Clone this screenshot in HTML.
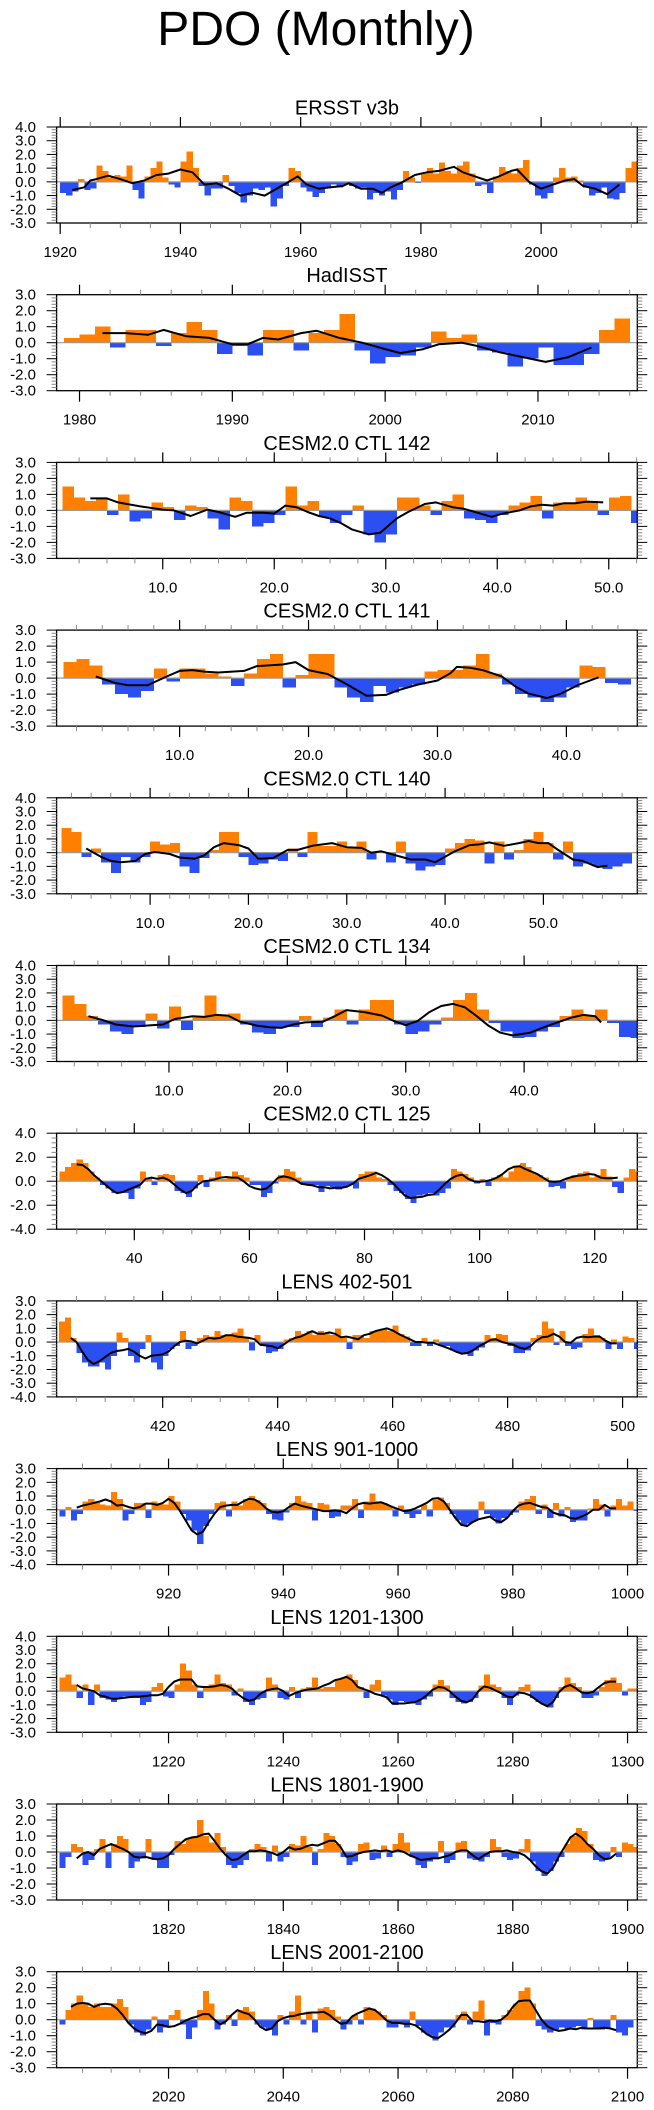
<!DOCTYPE html>
<html><head><meta charset="utf-8"><title>PDO (Monthly)</title>
<style>
html,body{margin:0;padding:0;background:#fff;}
svg{display:block;font-family:"Liberation Sans",Arial,sans-serif;}
</style></head>
<body>
<svg id="chart" width="654" height="2110" viewBox="0 0 654 2110" xmlns="http://www.w3.org/2000/svg">
<text x="316" y="45" font-size="48" text-anchor="middle" fill="#000">PDO (Monthly)</text>
</svg>
<script>
// ---- data (annual-ish bar values, smoothed line) ----
const titles = ["ERSST v3b","HadISST","CESM2.0 CTL 142","CESM2.0 CTL 141","CESM2.0 CTL 140","CESM2.0 CTL 134","CESM2.0 CTL 125","LENS 402-501","LENS 901-1000","LENS 1201-1300","LENS 1801-1900","LENS 2001-2100"];
const barStart = [1920,1979,1,1,1,1,27,402,901,1201,1801,2001];
const bars0 = [-0.8,-1.0,-0.7,0.2,-0.6,-0.5,1.2,0.8,0.3,0.5,0.4,1.2,-0.6,-1.2,0.4,1.0,1.5,0.3,-0.2,-0.4,1.5,2.2,1.0,-0.3,-1.0,-0.5,-0.5,0.5,-0.3,-0.8,-1.5,-1.0,-0.5,-0.6,-0.4,-1.8,-1.2,-0.3,1.0,0.8,-0.4,-0.7,-1.1,-0.8,-0.5,-0.2,-0.4,-0.2,-0.3,-0.5,-0.4,-1.3,-0.8,-1.0,-0.7,-1.3,-0.6,0.8,0.3,-0.1,0.7,1.0,0.6,1.4,0.8,0.6,1.2,1.5,0.6,-0.3,-0.2,-0.8,0.4,1.1,0.8,0.6,1.0,1.6,-0.2,-1.0,-1.2,-0.8,0.3,1.0,0.3,0.4,0.1,-0.4,-1.0,-0.8,-0.4,-1.2,-1.3,-0.8,1.0,1.5];
const bars1 = [0.3,0.5,1.0,-0.3,0.8,0.8,-0.2,0.6,1.3,0.8,-0.7,-0.2,-0.8,0.8,0.8,-0.5,0.6,0.8,1.8,-0.5,-1.3,-0.9,-0.8,-0.3,0.7,0.3,0.5,-0.5,-0.6,-1.5,-1.0,-0.3,-1.4,-1.4,-0.7,0.8,1.5];
const bars2 = [1.5,0.8,0.6,0.8,-0.3,1.0,-0.7,-0.5,0.5,0.2,-0.6,0.3,0.2,-0.5,-1.2,0.8,0.6,-1.0,-0.8,-0.3,1.5,0.3,0.6,-0.4,-0.8,-0.3,0.3,-1.5,-2.0,-1.5,0.8,0.8,0.3,-0.3,0.6,1.0,-0.5,-0.6,-0.8,-0.3,0.3,0.5,0.9,-0.5,0.5,0.5,0.8,0.6,-0.3,0.8,0.9,-0.8];
const bars3 = [1.0,1.2,0.8,-0.4,-1.0,-1.2,-0.8,0.6,-0.2,0.6,0.6,0.3,0.1,-0.5,0.3,1.2,1.5,-0.6,0.2,1.5,1.5,-0.6,-1.2,-1.5,-0.5,-0.9,-0.6,-0.4,0.4,0.5,0.5,0.8,1.5,0.3,-0.4,-1.0,-1.2,-1.5,-1.2,-0.6,0.8,0.7,-0.3,-0.4];
const bars4 = [1.8,1.5,-0.3,0.3,-0.7,-1.5,-0.3,-0.7,-0.3,0.8,0.6,0.7,-1.0,-1.5,-0.4,0.2,1.5,1.5,-0.3,-0.9,-0.8,-0.5,-0.6,0.3,-0.3,1.5,0.5,0.5,0.8,0.4,0.8,-0.5,0.1,-0.7,0.8,-0.8,-1.3,-1.0,-0.9,0.3,0.7,1.0,0.9,-0.8,0.8,-0.5,0.2,1.0,1.5,0.7,-0.5,0.8,-1.0,-0.8,-1.0,-1.2,-1.0,-0.8];
const bars5 = [1.8,1.2,0.3,-0.3,-0.8,-1.0,-0.5,0.5,-0.6,1.0,-0.7,0.2,1.8,0.4,0.5,-0.3,-0.9,-1.0,-0.5,-0.5,0.3,-0.5,0.2,0.8,-0.3,0.8,1.5,1.5,-0.3,-1.0,-0.8,-0.3,0.2,1.5,2.0,0.8,-0.2,-0.8,-1.3,-1.2,-0.8,-0.5,0.3,0.8,0.3,0.8,-0.2,-1.2,-1.3];
const bars6 = [0.8,1.2,1.5,1.8,1.5,0.8,0.3,-0.3,-0.6,-1.0,-1.0,-1.0,-1.5,-0.6,0.8,0.3,-0.3,0.5,0.6,0.5,-0.8,-1.0,-1.3,-0.6,0.5,-0.5,0.3,0.8,0.2,0.4,0.8,0.5,0.3,-0.3,-0.3,-1.3,-1.0,-0.2,0.5,1.0,0.8,0.3,-0.3,-0.3,-0.3,-0.9,-0.4,-0.5,-0.7,-0.5,-0.3,-0.6,0.6,0.8,0.8,0.3,0.2,-0.3,-0.8,-1.0,-1.5,-1.8,-1.2,-1.1,-1.0,-1.2,-1.0,-0.6,1.0,0.8,0.6,0.3,-0.2,0.2,-0.4,0.3,0.5,0.3,0.8,1.2,1.5,1.2,0.7,0.5,0.3,-0.5,-0.4,-0.6,0.3,0.5,0.7,0.8,0.3,0.5,1.0,0.4,-0.5,-1.0,0.3,1.0,0.8];
const bars7 = [1.5,1.8,0.3,-0.8,-1.5,-1.8,-1.8,-1.5,-2.0,-1.0,0.7,0.3,-1.0,-1.5,-0.5,0.5,-1.5,-2.0,-1.0,-0.5,-0.3,0.8,-0.5,-0.3,0.3,0.5,0.4,0.8,0.5,0.5,0.7,1.0,0.3,-0.6,0.5,-0.3,-0.8,-0.7,-0.5,0.2,0.3,0.8,0.6,0.8,0.5,0.8,0.7,0.5,1.0,0.3,-0.5,0.5,0.5,0.3,0.8,0.8,1.0,0.8,1.2,0.6,0.4,-0.3,-0.3,0.3,-0.3,0.2,-0.3,-0.3,-0.6,-0.8,-0.8,-1.0,-0.6,-0.4,0.5,0.3,0.6,0.5,-0.3,-0.8,-0.8,-0.6,0.3,0.5,1.5,1.0,-0.2,0.8,-0.3,-0.5,-0.4,0.6,1.0,0.5,0.3,-0.5,0.2,-0.5,0.4,0.3,-0.5];
const bars8 = [-0.5,0.2,-0.8,-0.3,0.6,0.8,0.5,0.4,0.3,1.3,0.8,-0.8,-0.3,0.5,0.5,-0.6,0.6,0.5,0.4,1.0,0.6,-0.3,-0.8,-1.5,-2.5,-1.2,-0.3,0.5,0.6,-0.5,0.6,0.3,0.8,1.0,0.7,0.5,-0.3,-0.7,-0.8,-0.2,0.5,1.0,0.6,0.5,-0.8,0.5,0.4,-0.6,-0.5,0.3,0.3,0.8,-0.6,0.6,1.2,0.6,0.5,0.3,-0.5,0.3,-0.3,-0.6,-0.3,0.4,-0.5,0.7,0.9,0.5,-0.3,-0.8,-1.2,-1.0,-0.8,0.6,-0.3,-0.6,-1.0,-0.6,-0.4,-0.2,0.6,0.8,1.0,-0.3,0.4,-0.6,0.5,-0.5,0.2,-0.9,-0.8,-0.8,0.1,0.8,0.4,-0.5,0.3,0.8,0.3,0.6,-0.1];
const bars9 = [1.0,1.2,0.5,-0.5,0.5,-1.0,0.5,-0.5,-0.6,-0.8,-0.5,-0.4,-0.5,-0.5,-1.0,-0.8,0.3,0.6,-0.4,-0.5,0.5,2.0,1.5,0.5,-0.5,0.3,0.5,1.2,0.6,0.5,-0.3,0.2,-0.8,-1.0,-0.6,-0.5,1.0,0.5,-0.5,-0.6,0.3,-0.5,0.2,0.3,1.0,0.2,0.3,0.3,0.9,1.0,1.2,0.8,0.3,-0.5,0.5,0.8,-0.3,-0.6,-1.0,-0.7,-0.8,-0.9,-1.0,-0.6,-0.4,0.5,0.8,0.4,-0.5,-0.8,-0.9,-0.8,-0.5,0.4,1.2,0.5,0.3,-0.5,-1.0,-0.3,0.3,0.5,-0.5,-0.8,-1.0,-1.2,-0.5,0.3,1.0,0.6,0.3,-0.5,-0.5,-0.3,0.3,0.8,1.0,0.6,-0.3,0.2,0.2];
const bars10 = [-1.0,-0.3,0.5,0.3,-0.8,-0.5,0.2,0.8,-1.0,0.5,1.0,0.8,-1.0,-0.6,-0.4,0.8,-0.5,-1.0,-1.0,-0.2,0.7,0.5,0.8,1.0,2.0,1.0,0.6,1.2,0.3,-0.8,-1.0,-0.8,-0.5,0.2,0.5,0.3,-0.6,0.4,-0.6,-0.3,0.5,0.4,1.0,0.3,-0.8,0.2,1.2,1.0,0.5,-0.3,-0.8,-0.6,0.5,0.6,-0.5,-0.4,0.4,-0.3,0.5,1.2,0.6,-0.3,-0.8,-1.0,-0.6,-0.4,0.7,-0.7,-0.5,0.6,0.7,-0.4,-0.5,-0.6,-0.3,0.8,0.3,-0.3,-0.5,-0.4,0.2,0.8,-0.6,-1.2,-1.5,-1.2,-0.6,-0.3,0.5,1.0,1.5,1.3,0.5,-0.5,-0.6,-0.4,0.3,-0.3,0.6,0.5,0.3];
const bars11 = [-0.3,0.6,1.0,1.5,1.0,0.8,1.0,0.8,0.8,1.0,1.3,0.8,-0.3,-0.8,-1.0,-0.6,0.2,-0.8,-0.5,0.3,0.6,-0.3,-1.2,-0.5,0.6,1.8,1.0,-0.6,-0.3,0.3,-0.4,0.6,0.8,0.5,-0.3,-0.5,-0.6,-1.0,0.3,-0.3,0.5,1.5,-0.3,0.5,-0.8,0.7,0.8,0.6,0.2,-0.6,-0.3,0.3,-0.3,0.8,0.7,0.5,0.3,-0.5,-0.5,-0.2,-0.5,0.5,-0.4,-0.8,-1.0,-1.3,-0.8,-0.5,-0.5,0.3,0.5,-0.3,0.5,1.2,-1.0,-0.2,-0.3,0.3,0.6,1.0,1.8,2.0,1.0,-0.4,-0.6,-0.8,-0.6,-0.5,-0.6,-0.5,-0.4,-0.6,0.1,-0.5,-0.6,-0.5,0.3,-0.8,-1.0,-0.5];
const barSets = [bars0,bars1,bars2,bars3,bars4,bars5,bars6,bars7,bars8,bars9,bars10,bars11];

// smoothed line: explicit x positions for first six panels
const lineX0 = [1922,1924,1925,1926,1928,1930,1932,1934,1936,1938,1940,1942,1944,1946,1948,1950,1952,1954,1956,1958,1959.5,1961,1963,1965,1967,1968,1970,1972,1973.5,1975,1977,1979,1981,1983,1985.5,1987,1989,1991,1993,1995,1996,1998,2000,2002,2004,2005.5,2007,2009,2011,2013];
const lineY0 = [-0.6,-0.4,0.1,0.2,0.45,0.2,-0.1,0.1,0.5,0.6,0.9,0.7,-0.2,-0.1,-0.5,-1.0,-0.8,-1.0,-0.5,0.0,0.4,-0.2,-0.5,-0.4,-0.3,-0.1,-0.5,-0.5,-0.8,-0.4,0.0,0.5,0.7,0.8,1.1,0.7,0.4,0.1,0.4,0.8,0.9,0.0,-0.5,-0.2,0.1,0.2,-0.3,-0.5,-0.9,-0.2];
const lineX1 = [1981.5,1983,1984.5,1985.5,1987,1988.5,1990,1991,1992,1993,1994.5,1995.5,1997,1998.5,2000,2001,2002.5,2003.5,2005,2006,2007.5,2009,2010.5,2012,2013.5];
const lineY1 = [0.6,0.6,0.5,0.8,0.4,0.3,-0.1,-0.1,0.3,0.2,0.6,0.75,0.3,0.0,-0.4,-0.65,-0.4,-0.1,0.0,-0.2,-0.6,-0.9,-1.2,-0.9,-0.3];
const lineX2 = [3.5,5,6,8,10,11,12.5,14,15,16.5,17.5,19,20,21,22,23,24,25,26,27,28.5,29.5,31,32,33.5,34.5,36,37,38,39.5,40.5,42,43,44,45,46,47,48,49.5];
const lineY2 = [0.75,0.75,0.5,0.25,0.05,0.0,-0.35,0.05,-0.1,-0.4,-0.15,-0.15,-0.2,0.3,0.2,-0.1,-0.35,-0.5,-0.8,-1.2,-1.5,-1.4,-0.5,-0.1,0.4,0.5,0.2,0.1,-0.1,-0.4,-0.2,0.0,0.25,0.35,0.3,0.45,0.45,0.55,0.5];
const lineX3 = [3.5,5,6,7.5,9,10,11,12,13,15,16,18,19,20,21.5,23,24.5,26,27,28.5,30,31,31.5,32.5,33.5,35,36,37,38.5,39.5,41,42.5];
const lineY3 = [0.1,-0.3,-0.45,-0.45,0.1,0.45,0.5,0.4,0.35,0.45,0.75,0.85,1.0,0.5,0.25,-0.4,-1.1,-1.05,-0.75,-0.4,-0.15,0.3,0.7,0.65,0.5,0.1,-0.5,-0.95,-1.25,-1.0,-0.4,0.05];
const lineX4 = [3.5,5,6,7,8.5,9.5,10.5,12,13,14.5,15.5,16.5,17.5,19,20,21,22.5,24,25,26.5,28.5,30,31.5,32.5,33.5,35,36.5,38,39,40,41,42.5,43.5,44.5,46,47.5,48.5,49.5,50.5,51.5,53,54,55.5,56.5];
const lineY4 = [0.3,-0.3,-0.6,-0.7,-0.6,-0.1,0.05,-0.1,-0.35,-0.45,-0.2,0.4,0.7,0.55,0.3,-0.45,-0.4,0.2,0.2,0.5,0.7,0.4,0.35,0.0,0.1,-0.2,-0.5,-0.5,-0.7,-0.3,0.1,0.55,0.6,0.75,0.5,0.7,0.85,0.7,0.7,0.2,-0.5,-0.6,-1.05,-0.95];
const lineX5 = [3.2,4.5,5.5,7,8.5,9.5,10.5,12,13,14,15,16,17.5,18.5,19.5,20.5,21.5,23,24,25,26.5,28,29,30,31,32,33,34,35,36,37,38,39,40.5,42,43,44,45,46,46.5];
const lineY5 = [0.3,0.0,-0.3,-0.45,-0.35,-0.3,0.1,0.3,0.25,0.4,0.35,-0.1,-0.4,-0.5,-0.55,-0.3,-0.15,-0.1,0.3,0.75,0.6,0.35,-0.05,-0.35,-0.05,0.6,1.05,1.2,0.95,0.3,-0.4,-0.9,-1.1,-0.9,-0.4,-0.1,0.2,0.4,0.3,-0.15];
// yearly line values for long panels
const lineStart = [30,404,904,1204,1804,2003];
const lineY6 = [1.4,1.35,1.0,0.5,0.1,-0.3,-0.7,-1.0,-0.9,-0.7,-0.5,-0.3,0.2,0.3,0.2,0.3,0.1,-0.3,-0.7,-1.0,-0.8,-0.3,0.0,0.05,0.15,0.3,0.35,0.3,0.3,0.0,-0.4,-0.6,-0.7,-0.6,-0.2,0.3,0.4,0.3,0.1,-0.2,-0.3,-0.35,-0.5,-0.5,-0.6,-0.55,-0.55,-0.45,-0.2,0.2,0.35,0.5,0.7,0.5,0.2,-0.2,-0.7,-1.2,-1.4,-1.35,-1.3,-1.15,-1.1,-0.7,-0.2,0.2,0.45,0.55,0.2,0.0,-0.05,0.0,0.1,0.3,0.6,1.0,1.2,1.25,1.0,0.8,0.6,0.3,0.0,-0.05,0.0,0.2,0.35,0.45,0.5,0.6,0.55,0.3,0.25,0.25,0.3];
const lineY7 = [0.3,0.0,-0.7,-1.3,-1.6,-1.4,-1.1,-0.8,-0.65,-0.6,-0.5,-0.7,-1.0,-1.2,-1.0,-0.95,-0.9,-0.7,-0.3,0.0,0.1,0.05,-0.1,0.1,0.3,0.25,0.3,0.5,0.5,0.4,0.35,0.3,0.2,-0.2,-0.25,-0.3,-0.45,-0.2,0.1,0.3,0.4,0.6,0.8,0.6,0.6,0.7,0.6,0.35,0.4,0.3,0.2,0.5,0.6,0.8,0.9,1.0,0.85,0.6,0.4,0.2,0.0,0.0,-0.05,-0.05,-0.2,-0.35,-0.5,-0.7,-0.85,-0.8,-0.6,-0.3,-0.1,0.15,0.2,0.0,-0.1,-0.2,-0.4,-0.5,-0.3,0.1,0.35,0.4,0.6,0.4,0.0,-0.05,0.3,0.4,0.35,0.4,0.4,0.1,-0.1,-0.1];
const lineY8 = [0.15,0.3,0.4,0.5,0.6,0.75,0.6,0.3,0.35,0.2,0.1,0.2,0.45,0.45,0.35,0.5,0.8,0.5,-0.1,-0.8,-1.5,-1.8,-1.6,-0.9,-0.3,0.2,0.3,0.35,0.35,0.6,0.8,0.75,0.5,0.1,-0.15,-0.2,-0.1,0.2,0.45,0.3,0.2,0.1,0.0,-0.1,-0.1,-0.05,-0.1,-0.25,0.1,0.4,0.5,0.45,0.5,0.55,0.4,0.2,0.05,-0.1,-0.05,0.1,0.3,0.5,0.8,0.85,0.6,0.0,-0.6,-1.1,-1.2,-0.9,-0.7,-0.6,-0.5,-0.8,-0.9,-0.6,-0.1,0.3,0.45,0.5,0.35,0.2,0.15,-0.2,-0.35,-0.4,-0.6,-0.65,-0.5,-0.3,0.0,0.0,0.35,0.1,0.1];
const lineY9 = [0.45,0.2,0.1,0.0,-0.3,-0.4,-0.55,-0.55,-0.5,-0.45,-0.4,-0.4,-0.35,-0.3,-0.3,-0.2,0.3,0.7,0.85,0.85,0.85,0.35,0.3,0.3,0.35,0.45,0.4,0.2,-0.2,-0.5,-0.7,-0.6,-0.2,0.05,0.15,0.2,0.0,-0.35,-0.15,0.0,0.1,0.15,0.2,0.4,0.55,0.8,0.9,1.05,0.8,0.3,0.15,0.0,-0.2,-0.3,-0.45,-0.9,-0.9,-0.9,-0.85,-0.8,-0.6,-0.3,0.1,0.3,0.25,0.0,-0.4,-0.7,-0.8,-0.6,0.0,0.35,0.25,0.05,-0.15,-0.4,-0.45,-0.1,-0.15,-0.3,-0.6,-0.9,-1.1,-0.8,-0.1,0.3,0.45,0.2,-0.1,-0.15,-0.05,0.3,0.6,0.7,0.7];
const lineY10 = [-0.4,-0.1,0.0,-0.2,0.2,0.35,0.5,0.35,0.2,0.0,-0.3,-0.35,-0.3,-0.4,-0.45,-0.4,-0.2,0.2,0.5,0.8,0.9,0.95,1.1,1.15,0.7,0.2,-0.2,-0.5,-0.45,-0.2,0.05,0.05,0.1,0.05,-0.05,-0.2,0.0,0.3,0.15,0.2,0.35,0.45,0.4,0.55,0.7,0.7,0.3,-0.3,-0.25,-0.1,0.0,0.05,0.1,0.05,0.1,0.0,0.1,0.0,-0.2,-0.35,-0.5,-0.45,-0.4,-0.4,-0.3,-0.2,0.0,0.1,0.1,-0.2,-0.45,-0.2,0.0,0.05,0.05,0.1,0.0,-0.05,-0.2,-0.5,-0.9,-1.2,-1.35,-1.0,-0.3,0.3,0.9,1.15,0.9,0.5,0.2,-0.2,-0.45,-0.4,-0.1];
const lineY11 = [0.8,1.0,1.05,1.0,0.8,0.95,1.0,0.95,0.7,0.3,-0.2,-0.55,-0.75,-0.85,-0.7,-0.3,-0.35,-0.45,-0.4,-0.25,-0.05,0.1,0.2,0.35,0.35,0.0,-0.3,-0.1,0.3,0.6,0.45,0.35,0.0,-0.45,-0.65,-0.55,-0.1,0.1,0.2,0.25,0.35,0.4,0.45,0.45,0.5,0.3,0.0,-0.25,-0.2,0.2,0.4,0.55,0.7,0.6,0.3,-0.05,-0.2,-0.2,-0.25,-0.25,-0.35,-0.6,-0.9,-1.1,-1.15,-0.9,-0.6,-0.2,0.3,0.3,-0.1,-0.1,-0.15,-0.05,-0.1,0.0,0.3,0.8,1.15,1.2,1.2,0.6,0.0,-0.4,-0.6,-0.7,-0.65,-0.55,-0.6,-0.5,-0.55,-0.55,-0.55,-0.5,-0.55,-0.65];
const lineXs = [lineX0,lineX1,lineX2,lineX3,lineX4,lineX5];
const lineYs = [lineY0,lineY1,lineY2,lineY3,lineY4,lineY5,lineY6,lineY7,lineY8,lineY9,lineY10,lineY11];

// axis tick values
const yMax = [4,3,3,3,4,4,4,3,3,4,3,3];
const yMin = [-3,-3,-3,-3,-3,-3,-4,-4,-4,-3,-3,-3];
const yStep = [1,1,1,1,1,1,2,1,1,1,1,1];
const xMin = [1919.4,1978.5,0.48,0.46,0.49,0.51,26.5,401.55,900.49,1200.49,1800.49,2000.49];
const xMax = [2016,2016.5,52.56,45.5,59.55,49.56,127.4,502.56,1001.7,1301.7,1901.7,2101.7];
const xMajor = [[1920,1940,1960,1980,2000],[1980,1990,2000,2010],[10,20,30,40,50],[10,20,30,40],[10,20,30,40,50],[10,20,30,40],[40,60,80,100,120],[420,440,460,480,500],[920,940,960,980,1000],[1220,1240,1260,1280,1300],[1820,1840,1860,1880,1900],[2020,2040,2060,2080,2100]];
const xMinorStep = [5,2,2.5,2,2,2,5,5,5,5,5,5];
const xDecimals = [0,0,1,1,1,1,0,0,0,0,0,0];

// ---- drawing ----
const NS = "http://www.w3.org/2000/svg";
const svg = document.getElementById("chart");
const BL = 56.6, BR = 637.3, BH = 96;
function mk(tag, attrs, parent){
  const e = document.createElementNS(NS, tag);
  for (const k in attrs) e.setAttribute(k, attrs[k]);
  (parent||svg).appendChild(e);
  return e;
}
const defs = mk("defs", {});
for (let p = 0; p < 12; p++) {
  const T = 127 + p * 167.7;
  const B = T + BH;
  const xs = v => BL + (v - xMin[p]) / (xMax[p] - xMin[p]) * (BR - BL);
  const ys = v => T + (yMax[p] - v) / (yMax[p] - yMin[p]) * BH;
  const g = mk("g", {});
  
  

  const cp = mk("clipPath", {id: "clip" + p}, defs);
  mk("rect", {x: BL, y: T, width: BR - BL, height: BH}, cp);

  const title = mk("text", {x: (BL + BR) / 2, y: T - 12.5, "font-size": 20, "text-anchor": "middle", fill: "#000"}, g);
  title.textContent = titles[p];
  
  

  // bars
  const bg = mk("g", {"clip-path": "url(#clip" + p + ")", "shape-rendering": "crispEdges"}, g);
  
  
  const vals = barSets[p];
  const y0 = ys(0);
  for (let i = 0; i < vals.length; i++) {
    const v = vals[i];
    const xa = xs(barStart[p] + i), xb = xs(barStart[p] + i + 1);
    const yv = ys(v);
    const r = mk("rect", {x: xa, y: Math.min(yv, y0), width: xb - xa + 0.3, height: Math.abs(yv - y0), fill: v >= 0 ? "#ff8000" : "#2b4ff0"}, bg);
    
    
  }
  // zero line
  const zl = mk("line", {x1: BL, x2: BR, y1: y0, y2: y0, stroke: "#999", "stroke-width": 1.2}, g);
  
  

  // smoothed line
  const ly = lineYs[p];
  let pts = [];
  for (let i = 0; i < ly.length; i++) {
    const xv = p < 6 ? lineXs[p][i] : lineStart[p - 6] + i;
    pts.push(xs(xv).toFixed(1) + "," + ys(ly[i]).toFixed(1));
  }
  const pl = mk("polyline", {points: pts.join(" "), fill: "none", stroke: "#000", "stroke-width": 2, "stroke-linejoin": "round"}, g);
  
  

  // box
  const box = mk("rect", {x: BL, y: T, width: BR - BL, height: BH, fill: "none", stroke: "#000", "stroke-width": 1.3}, g);
  
  

  // y ticks
  const yt = mk("g", {}, g);
  
  
  const minor = yStep[p] / 5;
  for (let v = yMin[p]; v <= yMax[p] + 1e-6; v += minor) {
    const vv = Math.round(v * 100) / 100;
    const yy = ys(vv);
    const isMajor = Math.abs(vv / yStep[p] - Math.round(vv / yStep[p])) < 1e-6;
    const len = isMajor ? 10 : 5;
    const col = isMajor ? "#000" : "#888";
    mk("line", {x1: BL - len, x2: BL, y1: yy, y2: yy, stroke: col, "stroke-width": 1}, yt);
    mk("line", {x1: BR, x2: BR + len, y1: yy, y2: yy, stroke: col, "stroke-width": 1}, yt);
    if (isMajor) {
      const t = mk("text", {x: 36, y: yy + 5, "font-size": 15, "text-anchor": "end", fill: "#000"}, yt);
      t.textContent = vv.toFixed(1);
      
      
    }
  }
  // x ticks
  const xt = mk("g", {}, g);
  
  
  const ms = xMinorStep[p];
  for (let v = Math.ceil(xMin[p] / ms) * ms; v <= xMax[p]; v += ms) {
    const xx = xs(v);
    mk("line", {x1: xx, x2: xx, y1: T - 5, y2: T, stroke: "#888", "stroke-width": 1}, xt);
    mk("line", {x1: xx, x2: xx, y1: B, y2: B + 5, stroke: "#888", "stroke-width": 1}, xt);
  }
  xMajor[p].forEach(v => {
    const xx = xs(v);
    mk("line", {x1: xx, x2: xx, y1: T - 10, y2: T, stroke: "#000", "stroke-width": 1.2}, xt);
    mk("line", {x1: xx, x2: xx, y1: B, y2: B + 11, stroke: "#000", "stroke-width": 1.2}, xt);
    const t = mk("text", {x: xx, y: T + 130, "font-size": 15, "text-anchor": "middle", fill: "#000"}, xt);
    t.textContent = v.toFixed(xDecimals[p]);
    
    
  });
}
</script>
</body></html>
